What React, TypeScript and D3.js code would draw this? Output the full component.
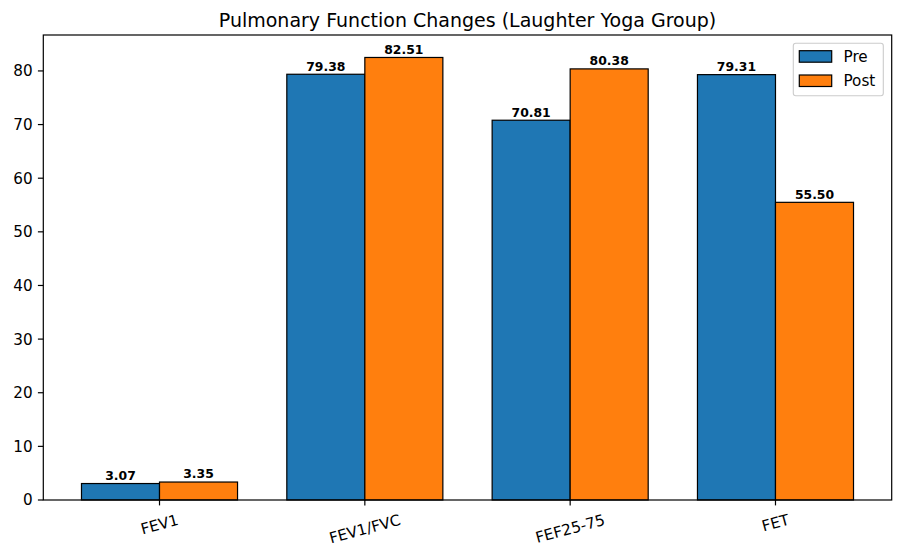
import React from "react";
import * as d3 from "d3";

const categories = ["FEV1", "FEV1/FVC", "FEF25-75", "FET"];
const preValues = [3.07, 79.38, 70.81, 79.31];
const postValues = [3.35, 82.51, 80.38, 55.5];
const yTicks = [0, 10, 20, 30, 40, 50, 60, 70, 80];
const seriesNames = ["Pre", "Post"];
const seriesColors = ["#1f77b4", "#ff7f0e"];

const W = 904;
const H = 558;
const L = 43.3;
const R = 891.7;
const T = 35;
const B = 500;
const FONT = "DejaVu Sans, sans-serif";
const TICK_FS = 15.2;
const TICK_LEN = 5.4;
const TICK_PAD = 5.2;

function measure(text: string, font: string): number {
  const c = document.createElement("canvas").getContext("2d");
  if (!c) return text.length * 8;
  c.font = font;
  return c.measureText(text).width;
}

export default function App() {
  const barW = 0.38;
  const x = d3.scaleLinear().domain([-0.566, 3.566]).range([L, R]);
  const y = d3.scaleLinear().domain([0, 86.7]).range([B, T]);
  const series = [preValues, postValues];
  const rot = 15;
  const rad = (rot * Math.PI) / 180;

  return (
    <svg
      width={W}
      height={H}
      style={{ position: "absolute", left: 0, top: 0, background: "#fff" }}
      fontFamily={FONT}
    >
      <rect x={0} y={0} width={W} height={H} fill="#fff" />
      {series.map((vals, si) =>
        vals.map((v, i) => {
          const x0 = x(i + (si === 0 ? -barW : 0));
          const x1 = x(i + (si === 0 ? 0 : barW));
          return (
            <g key={`b${si}-${i}`}>
              <rect
                x={x0}
                y={y(v)}
                width={x1 - x0}
                height={y(0) - y(v)}
                fill={seriesColors[si]}
                stroke="#000"
                strokeWidth={1.2}
              />
              <text
                x={(x0 + x1) / 2}
                y={y(v) - 3.6}
                textAnchor="middle"
                fontSize={12.4}
                fontWeight="bold"
                fill="#000"
              >
                {v.toFixed(2)}
              </text>
            </g>
          );
        })
      )}
      {/* axes frame */}
      <rect x={L} y={T} width={R - L} height={B - T} fill="none" stroke="#000" strokeWidth={1.2} />
      {/* y ticks */}
      {yTicks.map((t) => (
        <g key={`y${t}`}>
          <line x1={L - TICK_LEN} x2={L} y1={y(t)} y2={y(t)} stroke="#000" strokeWidth={1.2} />
          <text
            x={L - TICK_LEN - TICK_PAD}
            y={y(t)}
            dy="0.36em"
            textAnchor="end"
            fontSize={TICK_FS}
            fill="#000"
          >
            {t}
          </text>
        </g>
      ))}
      {/* x ticks */}
      {categories.map((c, i) => {
        const w = measure(c, `${TICK_FS}px DejaVu Sans`);
        const h = TICK_FS * 1.17;
        const bh = w * Math.sin(rad) + h * Math.cos(rad);
        const cx = x(i);
        const cy = B + TICK_LEN + TICK_PAD + bh / 2;
        return (
          <g key={`x${i}`}>
            <line x1={cx} x2={cx} y1={B} y2={B + TICK_LEN} stroke="#000" strokeWidth={1.2} />
            <text
              x={cx}
              y={cy}
              dy="0.36em"
              textAnchor="middle"
              fontSize={TICK_FS}
              fill="#000"
              transform={`rotate(${-rot}, ${cx}, ${cy})`}
            >
              {c}
            </text>
          </g>
        );
      })}
      {/* title */}
      <text x={(L + R) / 2} y={26.7} textAnchor="middle" fontSize={19} fill="#000">
        Pulmonary Function Changes (Laughter Yoga Group)
      </text>
      {/* legend */}
      <rect
        x={793.3}
        y={43.3}
        width={90}
        height={52.4}
        rx={2.5}
        fill="#fff"
        fillOpacity={0.8}
        stroke="#cccccc"
        strokeWidth={1.1}
      />
      {seriesNames.map((n, si) => {
        const py = 50.7 + si * 24.3;
        return (
          <g key={`l${si}`}>
            <rect
              x={799.3}
              y={py}
              width={32.4}
              height={11.5}
              fill={seriesColors[si]}
              stroke="#000"
              strokeWidth={1.2}
            />
            <text x={843.5} y={py + 5.75} dy="0.36em" fontSize={15.2} fill="#000">
              {n}
            </text>
          </g>
        );
      })}
    </svg>
  );
}
